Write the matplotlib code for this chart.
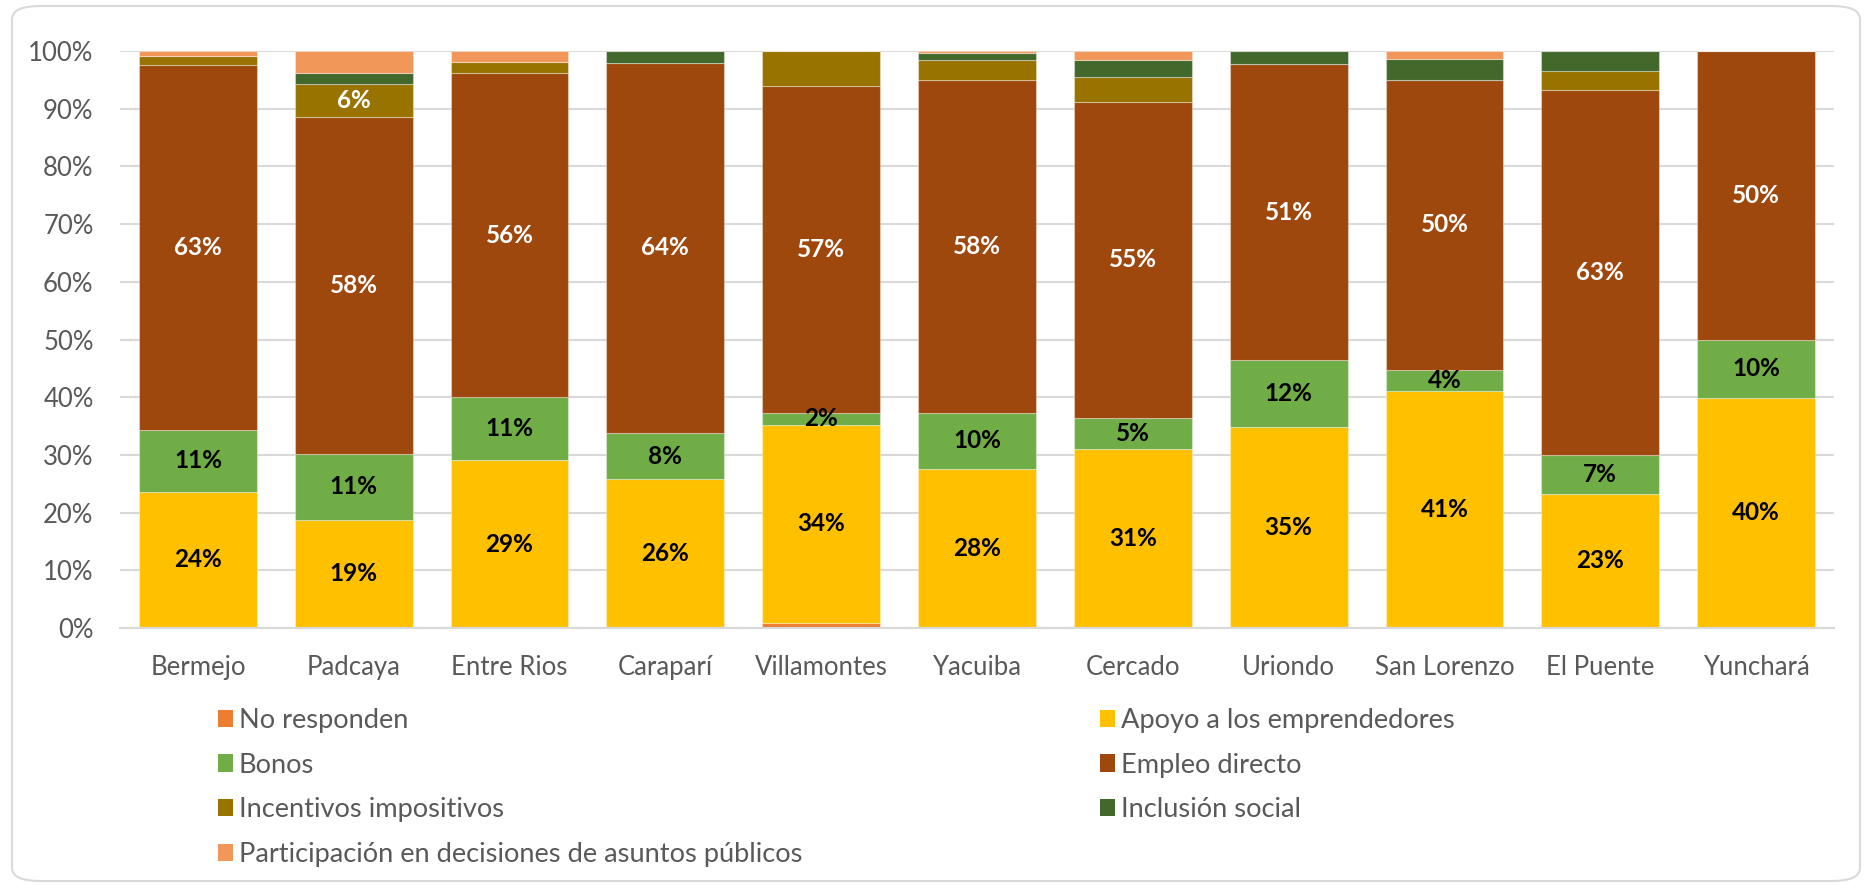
import matplotlib
matplotlib.use("Agg")
import matplotlib.pyplot as plt
from matplotlib.patches import FancyBboxPatch, Patch
import numpy as np

categories = ["Bermejo", "Padcaya", "Entre Rios", "Caraparí", "Villamontes", "Yacuiba",
              "Cercado", "Uriondo", "San Lorenzo", "El Puente", "Yunchará"]

no_responden = [0, 0, 0, 0, 0.9, 0, 0, 0, 0, 0, 0]
apoyo = [23.6, 18.8, 29.1, 25.8, 34.3, 27.6, 31.1, 34.8, 41.0, 23.3, 39.9]
bonos = [10.7, 11.4, 10.9, 8.0, 2.1, 9.7, 5.3, 11.6, 3.8, 6.6, 10.0]
empleo = [63.3, 58.3, 56.2, 64.2, 56.7, 57.6, 54.8, 51.3, 50.1, 63.4, 50.1]
incentivos = [1.5, 5.8, 1.9, 0, 6.0, 3.5, 4.3, 0, 0, 3.3, 0]
inclusion = [0, 1.9, 0, 2.0, 0, 1.2, 3.0, 2.3, 3.8, 3.4, 0]
participacion = [0.9, 3.8, 1.9, 0, 0, 0.4, 1.5, 0, 1.3, 0, 0]

series_names = ["No responden", "Apoyo a los emprendedores", "Bonos", "Empleo directo",
                "Incentivos impositivos", "Inclusión social",
                "Participación en decisiones de asuntos públicos"]
series_values = [no_responden, apoyo, bonos, empleo, incentivos, inclusion, participacion]
series_colors = ["#ED7D31", "#FFC000", "#70AD47", "#9E480E", "#997300", "#43682B", "#F1975A"]
label_colors = {"Apoyo a los emprendedores": "black", "Bonos": "black",
                "Empleo directo": "white", "Incentivos impositivos": "white"}
labelled_series = ["Apoyo a los emprendedores", "Bonos", "Empleo directo"]
extra_labels = [("Incentivos impositivos", "Padcaya")]

yticks = [0, 10, 20, 30, 40, 50, 60, 70, 80, 90, 100]

W, H = 1871, 888
fig = plt.figure(figsize=(W / 100, H / 100), dpi=100)
fig.patch.set_facecolor("white")

# rounded border of chart area
border = FancyBboxPatch((12 / W, 7 / H), (1860 - 12) / W, (882 - 7) / H,
                        boxstyle="round,pad=0,rounding_size=0.015",
                        transform=fig.transFigure, facecolor="none",
                        edgecolor="#D9D9D9", linewidth=1.5, zorder=-5)
fig.patches.append(border)

ax = fig.add_axes([120 / W, 1 - 628 / H, (1834 - 120) / W, (628 - 51) / H])
ax.set_facecolor("none")
ax.set_zorder(2)

x = np.arange(len(categories))
bottom = np.zeros(len(categories))
bar_w = 0.756
for name, vals, col in zip(series_names, series_values, series_colors):
    v = np.array(vals, dtype=float)
    ax.bar(x, v, bar_w, bottom=bottom, color=col, edgecolor=(1, 1, 1, 0.35),
           linewidth=0.8, zorder=2, label=name)
    for i, val in enumerate(v):
        show = (name in labelled_series and val > 0) or ((name, categories[i]) in extra_labels)
        if show:
            ax.text(x[i], bottom[i] + val / 2, f"{round(val):.0f}%",
                    ha="center", va="center", fontsize=17.5, fontweight="bold",
                    family=["Lato", "DejaVu Sans"],
                    color=label_colors.get(name, "black"), zorder=4)
    bottom += v

ax.set_xlim(-0.5, len(categories) - 0.5)
ax.set_ylim(0, 100)
ax.set_yticks(yticks)
ax.set_yticklabels([f"{t}%" for t in yticks])
ax.set_xticks(x)
ax.set_xticklabels(categories)
ax.tick_params(axis="both", length=0, colors="#595959", labelsize=18.5)
ax.tick_params(axis="y", pad=19)
ax.tick_params(axis="x", pad=19.5)
for lab in ax.get_xticklabels() + ax.get_yticklabels():
    lab.set_family(["Lato", "DejaVu Sans"])
ax.yaxis.grid(True, color="#D9D9D9", linewidth=1.5, zorder=0)
ax.set_axisbelow(True)
for s in ["top", "right", "left"]:
    ax.spines[s].set_visible(False)
ax.spines["bottom"].set_color("#D9D9D9")
ax.spines["bottom"].set_linewidth(1.5)

# legend (two columns, row-major order)
handles = {n: Patch(facecolor=c) for n, c in zip(series_names, series_colors)}
col1 = ["No responden", "Bonos", "Incentivos impositivos",
        "Participación en decisiones de asuntos públicos"]
col2 = ["Apoyo a los emprendedores", "Empleo directo", "Inclusión social"]
leg_kw = dict(frameon=False, handlelength=0.55, handleheight=0.6,
              handletextpad=0.22, labelspacing=0.72, borderpad=0, borderaxespad=0,
              labelcolor="#595959", loc="upper left",
              prop={"family": ["Lato", "DejaVu Sans"], "size": 19.6})
l1 = fig.legend([handles[n] for n in col1], col1,
                bbox_to_anchor=(218 / W, 1 - 708 / H), **leg_kw)
l2 = fig.legend([handles[n] for n in col2], col2,
                bbox_to_anchor=(1100 / W, 1 - 708 / H), **leg_kw)

fig.savefig("out.png", dpi=100, facecolor="white")
